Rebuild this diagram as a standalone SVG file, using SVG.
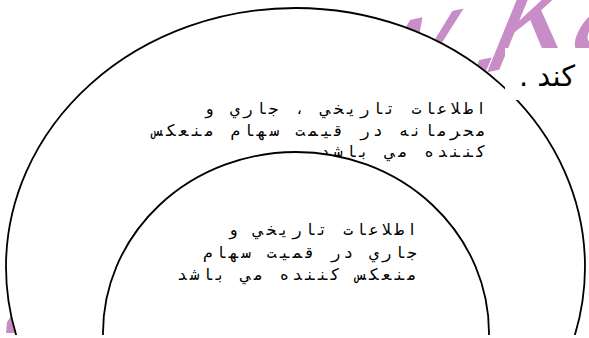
<svg xmlns="http://www.w3.org/2000/svg" width="589" height="338" viewBox="0 0 589 338">
<style>
.ring{fill:#fff;stroke:#000;stroke-width:1.8}
.lbl{font-family:"DejaVu Sans Mono",monospace;font-size:16px;fill:#000;text-anchor:end}
.wm{font-family:"Liberation Sans",Arial,sans-serif;font-size:100px;fill:#c88dc6}
</style>
<defs>
<clipPath id="cut"><rect x="0" y="0" width="589" height="335"/></clipPath>
</defs>
<g id="watermark">
<text class="wm" transform="translate(487,66) scale(1.3) translate(-114,29) skewY(-12) skewX(-24)" x="0" y="0"><tspan>w</tspan><tspan dx="22">.</tspan><tspan dx="-16">K</tspan><tspan dx="0">a</tspan></text>
<path d="M6,333 L15,333 L11,316 L7,322 Z" fill="#c88dc6"/>
</g>
<g clip-path="url(#cut)">
<g id="outer">
<ellipse class="ring" cx="295.5" cy="267" rx="289.5" ry="259"/>
<text class="lbl" x="486" y="114" textLength="282" lengthAdjust="spacing">اطلاعات تاريخي ، جاري و</text>
<text class="lbl" x="486" y="136" textLength="333" lengthAdjust="spacing">محرمانه در قيمت سهام منعكس</text>
<text class="lbl" x="486" y="157" textLength="166" lengthAdjust="spacing">كننده مي باشد</text>
</g>
<g id="inner">
<ellipse class="ring" cx="296" cy="333" rx="193" ry="181"/>
<text class="lbl" x="417" y="235" textLength="189" lengthAdjust="spacing">اطلاعات تاريخي و</text>
<text class="lbl" x="417" y="258" textLength="214" lengthAdjust="spacing">جاري در قميت سهام</text>
<text class="lbl" x="417" y="280" textLength="240" lengthAdjust="spacing">منعكس كننده مي باشد</text>
</g>
</g>
<g id="caption">
<rect x="505" y="48" width="84" height="52" fill="#fff"/>
<text x="547" y="86" direction="rtl" text-anchor="middle" font-family="'DejaVu Sans',sans-serif" font-size="29" fill="#000">کند .</text>
</g>
</svg>
